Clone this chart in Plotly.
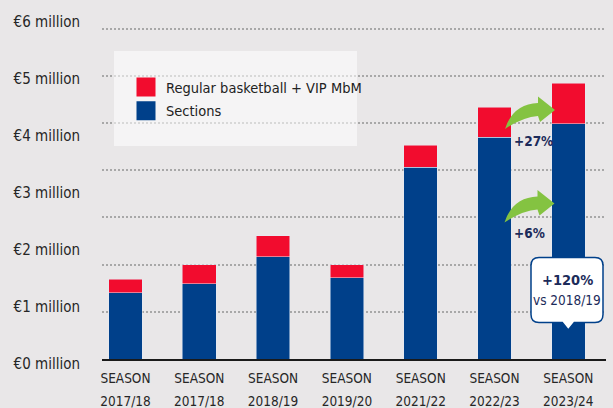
import plotly.graph_objects as go

# Season labels (the first season appears twice in the source series)
seasons = ["2017/18", "2017/18", "2018/19", "2019/20", "2021/22", "2022/23", "2023/24"]
season_word = "SEASON"

# Revenue in € million
sections = [1.16, 1.32, 1.79, 1.42, 3.36, 3.88, 4.12]
regular_vip = [0.24, 0.33, 0.37, 0.23, 0.38, 0.53, 0.71]

# Y-axis ticks (€ million)
y_ticks = [0, 1, 2, 3, 4, 5, 6]
y_tick_text = [f"€{v} million" for v in y_ticks]

# Callouts
growth_regular = "+27%"
growth_sections = "+6%"
growth_total = "+120%"
growth_total_ref = "vs 2018/19"

# Colours and fonts
BG = "#e9e7e8"
RED = "#f20c2e"
NAVY = "#00408a"
DARK_NAVY = "#1c2b5a"
GREEN = "#84c341"
TEXT = "#262626"
FONT = "DejaVu Sans Condensed, Liberation Sans Narrow, sans-serif"

# Figure geometry (pixels)
W, H = 613, 408
L, R, T, B = 102, 606, 8, 359


def px(x, y):
    """Pixel position -> paper coordinates."""
    return (x - L) / (R - L), (B - y) / (B - T)


def path(points):
    """Build an SVG path in paper coordinates from pixel commands."""
    out = []
    for cmd, *coords in points:
        pts = []
        for i in range(0, len(coords), 2):
            X, Y = px(coords[i], coords[i + 1])
            pts.append(f"{X:.5f},{Y:.5f}")
        out.append(cmd + " ".join(pts))
    return " ".join(out) + " Z"


x_pos = list(range(len(seasons)))

fig = go.Figure()

fig.add_trace(go.Bar(x=x_pos, y=sections, marker_color=NAVY, width=0.455,
                     showlegend=False, hoverinfo="y"))
fig.add_trace(go.Bar(x=x_pos, y=regular_vip, marker_color=RED, width=0.455,
                     showlegend=False, hoverinfo="y"))

# Legend entries as square markers
fig.add_trace(go.Scatter(x=[None], y=[None], mode="markers", name="Regular basketball + VIP MbM",
                         legendgroup="regular",
                         marker=dict(symbol="square", size=16, color=RED,
                                     line=dict(color=RED, width=3))))
fig.add_trace(go.Scatter(x=[None], y=[None], mode="markers", name="Sections",
                         legendgroup="sections",
                         marker=dict(symbol="square", size=16, color=NAVY,
                                     line=dict(color=NAVY, width=3))))

# Carrier for the secondary axes (grid + year labels)
fig.add_trace(go.Scatter(x=[None], y=[None], xaxis="x2", yaxis="y2",
                         showlegend=False, hoverinfo="skip"))

y_top = (B - T) / 57.1
grid_top = (B - T) / 47.2
x_range = [-0.318, 6.511]

fig.update_layout(
    width=W, height=H,
    margin=dict(l=L, r=W - R, t=T, b=H - B, pad=0, autoexpand=False),
    paper_bgcolor=BG, plot_bgcolor=BG,
    barmode="stack",
    font=dict(family=FONT, color=TEXT),
    xaxis=dict(range=x_range, tickvals=x_pos, ticktext=[season_word] * len(seasons),
               showgrid=False, zeroline=False, showline=True, linecolor="#1a1a1a",
               linewidth=2, ticks="", tickfont=dict(size=13.5, family=FONT, color=TEXT),
               ticklabelstandoff=6, automargin=False, fixedrange=True),
    xaxis2=dict(range=x_range, overlaying="x", anchor="y", side="bottom",
                tickvals=x_pos, ticktext=seasons, showgrid=False, zeroline=False,
                showline=False, ticks="", tickfont=dict(size=13.5, family=FONT, color=TEXT),
                ticklabelstandoff=32, automargin=False, fixedrange=True),
    yaxis=dict(range=[0, y_top], tickvals=y_ticks, ticktext=y_tick_text, showgrid=False,
               zeroline=False, ticks="", tickfont=dict(size=15, family=FONT, color=TEXT),
               ticklabelstandoff=21, ticklabelshift=5, automargin=False, fixedrange=True),
    yaxis2=dict(range=[0, grid_top], overlaying="y", anchor="x", side="left", dtick=1, tick0=0,
                showgrid=True, gridcolor="#a8a8a8", griddash="2px,2px", gridwidth=1.5,
                showticklabels=False, zeroline=False, ticks="", automargin=False,
                fixedrange=True),
    legend=dict(x=px(126, 0)[0], y=px(0, 71)[1], xanchor="left", yanchor="top",
                bgcolor="rgba(0,0,0,0)", borderwidth=0, traceorder="grouped",
                tracegroupgap=2,
                font=dict(size=14.5, family=FONT, color="#222222"), itemsizing="trace"),
    showlegend=True,
)

shapes = []
# Legend panel
x0, y0 = px(114, 146)
x1, y1 = px(357, 51)
shapes.append(dict(type="rect", xref="paper", yref="paper", x0=x0, y0=y0, x1=x1, y1=y1,
                   fillcolor="rgba(255,255,255,0.55)", line=dict(width=0), layer="above"))


# Curved growth arrows between the last two seasons
def arrow(tx, ty):
    return path([
        ("M", tx, ty),
        ("L", tx - 17, ty - 13.5),
        ("L", tx - 17, ty - 7),
        ("Q", tx - 42, ty - 6, tx - 50, ty + 19),
        ("Q", tx - 32, ty + 7, tx - 17, ty + 6),
        ("L", tx - 15, ty + 12),
    ])


for tip_x, tip_y in [(555, 110), (554.5, 203.5)]:
    shapes.append(dict(type="path", xref="paper", yref="paper", path=arrow(tip_x, tip_y),
                       fillcolor=GREEN, line=dict(width=0), layer="above"))

# Rounded callout with a pointer
cl, cr, ct, cb, rr = 531, 603, 257.5, 322.5, 8
tip = (568.3, 330)
shapes.append(dict(type="path", xref="paper", yref="paper", layer="above",
                   fillcolor="white", line=dict(color=NAVY, width=1.5),
                   path=path([
                       ("M", cl + rr, ct),
                       ("L", cr - rr, ct),
                       ("Q", cr, ct, cr, ct + rr),
                       ("L", cr, cb - rr),
                       ("Q", cr, cb, cr - rr, cb),
                       ("L", tip[0] + 6, cb),
                       ("L", tip[0], tip[1]),
                       ("L", tip[0] - 6, cb),
                       ("L", cl + rr, cb),
                       ("Q", cl, cb, cl, cb - rr),
                       ("L", cl, ct + rr),
                       ("Q", cl, ct, cl + rr, ct),
                   ])))
fig.update_layout(shapes=shapes)

annotations = []
ax, ay = px(512, 140.5)
annotations.append(dict(xref="paper", yref="paper", x=ax, y=ay, xanchor="left", yanchor="middle",
                        text=f"<b>{growth_regular}</b>", showarrow=False,
                        font=dict(size=13.5, family=FONT, color=DARK_NAVY)))
ax, ay = px(512, 232.5)
annotations.append(dict(xref="paper", yref="paper", x=ax, y=ay, xanchor="left", yanchor="middle",
                        text=f"<b>{growth_sections}</b>", showarrow=False,
                        font=dict(size=13.5, family=FONT, color=DARK_NAVY)))
ax, ay = px(567, 280)
annotations.append(dict(xref="paper", yref="paper", x=ax, y=ay, xanchor="center", yanchor="middle",
                        text=f"<b>{growth_total}</b>", showarrow=False,
                        font=dict(size=14.5, family=FONT, color=DARK_NAVY)))
ax, ay = px(567, 300)
annotations.append(dict(xref="paper", yref="paper", x=ax, y=ay, xanchor="center", yanchor="middle",
                        text=growth_total_ref, showarrow=False,
                        font=dict(size=13.5, family=FONT, color=DARK_NAVY)))
fig.update_layout(annotations=annotations)

fig.write_html("out.html", config={"displayModeBar": False})
